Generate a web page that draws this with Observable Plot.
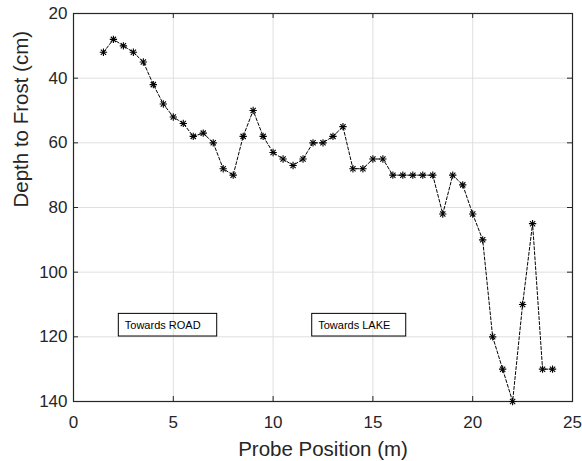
<!DOCTYPE html>
<html>
<head>
<meta charset="utf-8">
<script src="https://cdn.jsdelivr.net/npm/d3@7"></script>
<script src="https://cdn.jsdelivr.net/npm/@observablehq/plot@0.6"></script>
<style>
  body { margin: 0; background: #fff; }
  svg { display: block; }
</style>
</head>
<body>
<div id="chart"></div>
<script>
const probePosition = [1.5, 2, 2.5, 3, 3.5, 4, 4.5, 5, 5.5, 6, 6.5, 7, 7.5, 8, 8.5, 9, 9.5, 10, 10.5, 11, 11.5, 12, 12.5, 13, 13.5, 14, 14.5, 15, 15.5, 16, 16.5, 17, 17.5, 18, 18.5, 19, 19.5, 20, 20.5, 21, 21.5, 22, 22.5, 23, 23.5, 24];
const depthToFrost = [32, 28, 30, 32, 35, 42, 48, 52, 54, 58, 57, 60, 68, 70, 58, 50, 58, 63, 65, 67, 65, 60, 60, 58, 55, 68, 68, 65, 65, 70, 70, 70, 70, 70, 82, 70, 73, 82, 90, 120, 130, 140, 110, 85, 130, 130];
const xTicks = [0, 5, 10, 15, 20, 25];
const yTicks = [20, 40, 60, 80, 100, 120, 140];
const xLabel = "Probe Position (m)";
const yLabel = "Depth to Frost (cm)";
const noteLabels = ["Towards ROAD", "Towards LAKE"];
const noteX1 = [2.27, 11.96];
const noteX2 = [7.2, 16.67];
const noteY1 = [112.9, 112.9];
const noteY2 = [119.9, 119.9];

const data = probePosition.map((x, i) => ({x, y: depthToFrost[i]}));
const notes = noteLabels.map((label, i) => ({label, x1: noteX1[i], x2: noteX2[i], y1: noteY1[i], y2: noteY2[i], ym: (noteY1[i] + noteY2[i]) / 2}));

const W = 582, H = 461;
const mL = 73, mR = 10, mT = 13, mB = 60;
const innerW = W - mL - mR, innerH = H - mT - mB;
const axisColor = "#262626";
const gridColor = "#dfdfdf";
const tickLen = 5;

const chart = Plot.plot({
  width: W,
  height: H,
  marginLeft: mL,
  marginRight: mR,
  marginTop: mT,
  marginBottom: mB,
  style: {fontFamily: "'Liberation Sans', Arial, Helvetica, sans-serif", background: "#fff", color: axisColor},
  x: {domain: [0, 25]},
  y: {domain: [20, 140], reverse: true},
  marks: [
    Plot.ruleX(xTicks.slice(1, -1), {stroke: gridColor, strokeWidth: 1}),
    Plot.ruleY(yTicks.slice(1, -1), {stroke: gridColor, strokeWidth: 1}),
    Plot.tickX(xTicks, {x: d => d, stroke: axisColor, insetTop: innerH - tickLen}),
    Plot.tickX(xTicks, {x: d => d, stroke: axisColor, insetBottom: innerH - tickLen}),
    Plot.tickY(yTicks, {y: d => d, stroke: axisColor, insetRight: innerW - tickLen}),
    Plot.tickY(yTicks, {y: d => d, stroke: axisColor, insetLeft: innerW - tickLen}),
    Plot.axisX(xTicks, {tickSize: 0, tickPadding: 14, fontSize: 17, label: null, color: axisColor}),
    Plot.axisY(yTicks, {tickSize: 0, tickPadding: 6, fontSize: 17, label: null, color: axisColor}),
    Plot.frame({stroke: axisColor, strokeWidth: 1.2}),
    Plot.line(data, {x: "x", y: "y", stroke: "#000", strokeWidth: 1, strokeDasharray: "3,2"}),
    Plot.dot(data, {x: "x", y: "y", symbol: "plus", r: 2.5, stroke: "#000", strokeWidth: 1.1}),
    Plot.dot(data, {x: "x", y: "y", symbol: "times", r: 2.5, stroke: "#000", strokeWidth: 1.1}),
    Plot.rect(notes, {x1: "x1", x2: "x2", y1: "y1", y2: "y2", fill: "none", stroke: "#000", strokeWidth: 1}),
    Plot.text(notes, {x: "x1", y: "ym", text: "label", textAnchor: "start", dx: 6, fontSize: 11, fill: "#000"}),
    Plot.text([xLabel], {frameAnchor: "bottom", text: d => d, dy: 54, lineAnchor: "bottom", fontSize: 20.5, fill: axisColor}),
    Plot.text([yLabel], {frameAnchor: "left", text: d => d, dx: -46, rotate: -90, lineAnchor: "bottom", fontSize: 20.5, fill: axisColor})
  ]
});
document.getElementById("chart").appendChild(chart);
</script>
</body>
</html>
